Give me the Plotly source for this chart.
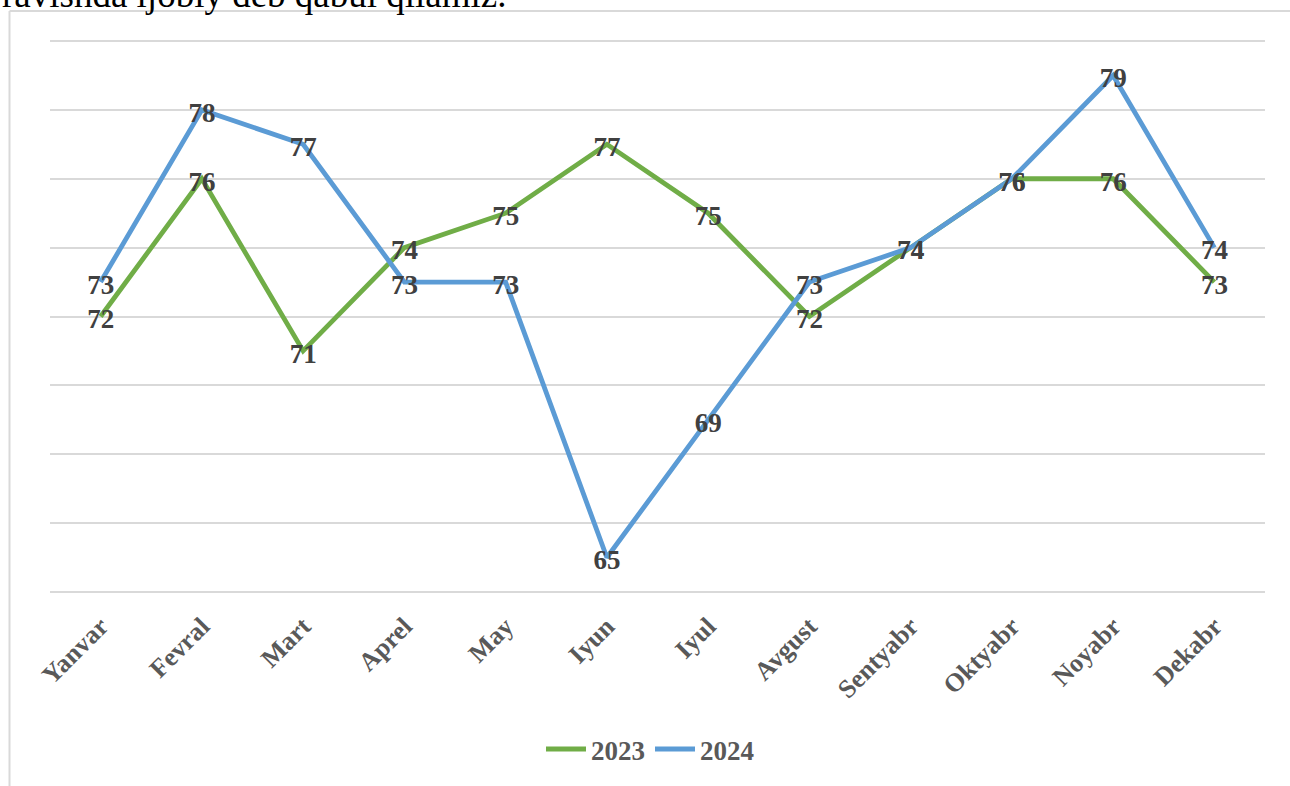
import plotly.graph_objects as go

months = ["Yanvar", "Fevral", "Mart", "Aprel", "May", "Iyun", "Iyul",
          "Avgust", "Sentyabr", "Oktyabr", "Noyabr", "Dekabr"]
values_2023 = [72, 76, 71, 74, 75, 77, 75, 72, 74, 76, 76, 73]
values_2024 = [73, 78, 77, 73, 73, 65, 69, 73, 74, 76, 79, 74]

GREEN = "#70AD47"
BLUE = "#5B9BD5"
FONT = "Liberation Serif"

W, H = 1290, 786
L, R, T, B = 50, 25, 40, 191
pw, ph = W - L - R, H - T - B

Y_RANGE = [63.97, 80.03]
# label axis shifted a few pixels so text sits centred on the points
shift = 5 * (Y_RANGE[1] - Y_RANGE[0]) / ph
Y2_RANGE = [Y_RANGE[0] + shift, Y_RANGE[1] + shift]

def px_x(x):
    return (x - L) / pw

def px_y(y):
    return (H - B - y) / ph

fig = go.Figure()

# data labels (drawn beneath lines)
for vals in (values_2023, values_2024):
    fig.add_trace(go.Scatter(
        x=months, y=vals, mode="text", text=[str(v) for v in vals],
        textposition="middle center", yaxis="y2",
        textfont=dict(family=FONT, size=27, color="#404040", weight="bold"),
        showlegend=False, hoverinfo="skip", cliponaxis=False,
    ))

fig.add_trace(go.Scatter(x=months, y=values_2023, mode="lines", name="2023",
                         line=dict(color=GREEN, width=4.8), cliponaxis=False))
fig.add_trace(go.Scatter(x=months, y=values_2024, mode="lines", name="2024",
                         line=dict(color=BLUE, width=4.8), cliponaxis=False))

fig.update_layout(
    width=W, height=H,
    margin=dict(l=L, r=R, t=T, b=B),
    paper_bgcolor="white", plot_bgcolor="white",
    font=dict(family=FONT, color="#595959"),
    showlegend=True,
    legend=dict(orientation="h", x=px_x(650), xanchor="center",
                y=px_y(752), yanchor="middle",
                font=dict(family=FONT, size=27, color="#595959", weight="bold"),
                itemwidth=40),
    xaxis=dict(
        type="category", range=[-0.5, 11.5],
        showgrid=False, zeroline=False, showline=False, ticks="",
        tickangle=-45, ticklabelstandoff=12,
        tickfont=dict(family=FONT, size=26, color="#595959", weight="bold"),
    ),
    yaxis=dict(
        range=Y_RANGE, dtick=2, tick0=64,
        showgrid=True, gridcolor="#d9d9d9", gridwidth=1.5,
        zeroline=False, showline=False, showticklabels=False, ticks="",
    ),
    yaxis2=dict(
        range=Y2_RANGE, overlaying="y", showgrid=False, zeroline=False,
        showline=False, showticklabels=False, ticks="",
    ),
    shapes=[
        dict(type="line", xref="paper", yref="paper",
             x0=px_x(9.5), x1=px_x(1295), y0=px_y(11), y1=px_y(11),
             line=dict(color="#d9d9d9", width=2)),
        dict(type="line", xref="paper", yref="paper",
             x0=px_x(9.5), x1=px_x(9.5), y0=px_y(11), y1=px_y(800),
             line=dict(color="#d9d9d9", width=2)),
    ],
    annotations=[
        dict(text="ravishda ijobiy deb qabul qilamiz.", xref="paper", yref="paper",
             x=px_x(0), xanchor="left", y=px_y(-5.6), yanchor="middle",
             showarrow=False,
             font=dict(family=FONT, size=37, color="black")),
    ],
)

fig.write_html("out.html", config={"displayModeBar": False},
               post_script="document.body.style.margin='0';")
